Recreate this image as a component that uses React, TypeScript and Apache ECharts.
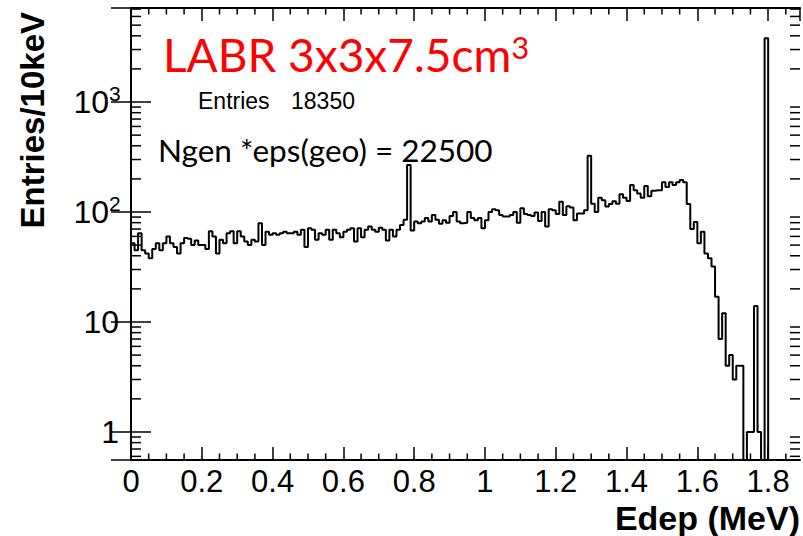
import React, { useEffect, useRef } from "react";
import * as echarts from "echarts";

// 10 keV bins, Edep from 0 to 1.89 MeV
const BIN_WIDTH = 0.01;
const X_MAX = 1.89;
const Y_MIN = 0.556;
const Y_MAX = 7160;

const countsA = [52, 45, 64, 45, 42, 38, 46, 52, 45, 52, 60, 52, 48, 42, 52, 58, 57, 50, 55, 50,
  50, 46, 67, 60, 42, 56, 52, 64, 67, 52, 67, 60, 54, 50, 56, 54, 79, 50, 66, 62, 64];
const countsB = [62, 64, 66, 64, 64, 66, 62, 69, 48, 71, 69, 56, 64, 62, 69, 56, 69, 64, 59, 66,
  69, 71, 54, 71, 59, 69, 74, 69, 66, 72, 69, 55, 69, 60, 69, 76, 85, 267, 68, 82, 79, 82, 88, 82, 94, 85, 78];
const countsC = [84, 80, 92, 100, 82, 79, 80, 100, 88, 84, 88, 71, 84, 100, 106, 104, 94, 91, 91, 94,
  100, 80, 108, 96, 94, 92, 99, 83, 100, 74, 106, 104, 96, 124, 94, 113, 110, 84, 97, 97, 104];
const countsD = [325, 119, 100, 135, 128, 112, 118, 125, 119, 145, 135, 126, 176, 158, 147, 135, 172, 139, 156,
  158, 158, 186, 169, 186, 176, 186, 195, 186];
const countsE = [118, 70, 81, 52, 66, 42, 38, 32, 17, 7, 12, 4, 5, 3, 4, 4, 0, 1, 1, 14, 1, 0, 3800,
  0, 0, 0, 0, 0, 0, 0, 0, 0];
const counts = [...countsA, ...countsB, ...countsC, ...countsD, ...countsE];

const yMajorLabels = [1, 10, 100, 1000];
const yMinorTicks = [0.6, 0.7, 0.8, 0.9, 2, 3, 4, 5, 6, 7, 8, 9, 20, 30, 40, 50, 60, 70, 80, 90,
  200, 300, 400, 500, 600, 700, 800, 900, 2000, 3000, 4000, 5000, 6000, 7000];
const xMinorTicks = [0.05, 0.1, 0.15, 0.25, 0.3, 0.35, 0.45, 0.5, 0.55, 0.65, 0.7, 0.75, 0.85, 0.9, 0.95,
  1.05, 1.1, 1.15, 1.25, 1.3, 1.35, 1.45, 1.5, 1.55, 1.65, 1.7, 1.75, 1.85];

const ROOT_FONT = "'Liberation Sans', Arial, Helvetica, sans-serif";
const NOTE_FONT = "Lato, 'Open Sans', sans-serif";

export default function App() {
  const ref = useRef<HTMLDivElement>(null);
  useEffect(() => {
    if (!ref.current) return;
    const chart = echarts.init(ref.current, null, { renderer: "svg" });
    const lineData: number[][] = counts.map((v, i) => [+(i * BIN_WIDTH).toFixed(2), v > 0 ? v : 1e-3]);
    const last = counts[counts.length - 1];
    lineData.push([X_MAX, last > 0 ? last : 1e-3]);

    const tickData: number[][] = [
      ...xMinorTicks.map((v) => [0, v, 6.5]),
      ...yMinorTicks.map((v) => [1, v, 10]),
    ];

    const xAxisBase = {
      type: "value",
      min: 0,
      max: X_MAX,
      interval: 0.2,
      axisLine: { show: true, onZero: false, lineStyle: { color: "#000", width: 2 } },
      axisTick: { show: true, inside: true, length: 13, lineStyle: { color: "#000", width: 1.5 } },
      splitLine: { show: false },
    };
    const yAxisBase = {
      type: "log",
      logBase: 10,
      min: Y_MIN,
      max: Y_MAX,
      axisLine: { show: true, lineStyle: { color: "#000", width: 2 } },
      axisTick: { show: true, inside: true, length: 20, lineStyle: { color: "#000", width: 1.5 } },
      axisLabel: { show: false },
      splitLine: { show: false },
    };

    chart.setOption({
      animation: false,
      backgroundColor: "#fff",
      grid: { left: 131, right: 3, top: 8, bottom: 76 },
      xAxis: [
        {
          ...xAxisBase,
          position: "bottom",
          axisLabel: {
            show: true,
            margin: 6,
            fontSize: 31,
            lineHeight: 30,
            fontFamily: ROOT_FONT,
            color: "#000",
            showMaxLabel: false,
            formatter: (v: number) => String(+v.toFixed(1)),
          },
        },
        { ...xAxisBase, position: "top", axisLabel: { show: false } },
      ],
      yAxis: [
        { ...yAxisBase, position: "left" },
        { ...yAxisBase, position: "right" },
      ],
      series: [
        {
          type: "line",
          step: "end",
          data: lineData,
          showSymbol: false,
          symbol: "none",
          clip: true,
          lineStyle: { color: "#000", width: 2 },
          xAxisIndex: 0,
          yAxisIndex: 0,
          z: 3,
        },
        {
          type: "custom",
          xAxisIndex: 0,
          yAxisIndex: 0,
          data: tickData,
          silent: true,
          z: 4,
          renderItem: (params: any, api: any) => {
            const kind = api.value(0);
            const v = api.value(1);
            const len = api.value(2);
            const cs = params.coordSys;
            const style = { stroke: "#000", lineWidth: 1.5 };
            if (kind === 0) {
              const px = api.coord([v, 1])[0];
              return {
                type: "group",
                children: [
                  { type: "line", shape: { x1: px, y1: cs.y + cs.height, x2: px, y2: cs.y + cs.height - len }, style },
                  { type: "line", shape: { x1: px, y1: cs.y, x2: px, y2: cs.y + len }, style },
                ],
              };
            }
            const py = api.coord([0.5, v])[1];
            return {
              type: "group",
              children: [
                { type: "line", shape: { x1: cs.x, y1: py, x2: cs.x + len, y2: py }, style },
                { type: "line", shape: { x1: cs.x + cs.width, y1: py, x2: cs.x + cs.width - len, y2: py }, style },
              ],
            };
          },
        },
        {
          type: "custom",
          xAxisIndex: 0,
          yAxisIndex: 0,
          data: yMajorLabels.map((v) => [0.5, v]),
          silent: true,
          z: 5,
          renderItem: (params: any, api: any) => {
            const v = api.value(1);
            const cs = params.coordSys;
            const py = api.coord([0.5, v])[1];
            const e = Math.round(Math.log10(v));
            const baseStyle = { font: `32px ${ROOT_FONT}`, fill: "#000", verticalAlign: "middle" };
            if (e >= 2) {
              return {
                type: "group",
                children: [
                  { type: "text", x: cs.x - 22, y: py, style: { ...baseStyle, text: "10", align: "right" } },
                  {
                    type: "text",
                    x: cs.x - 22,
                    y: py - 9,
                    style: { font: `21px ${ROOT_FONT}`, fill: "#000", verticalAlign: "middle", text: String(e), align: "left" },
                  },
                ],
              };
            }
            return { type: "text", x: cs.x - 12, y: py, style: { ...baseStyle, text: String(Math.round(v)), align: "right" } };
          },
        },
      ],
      graphic: [
        {
          type: "text",
          x: 163,
          y: 54,
          style: {
            text: "{m|LABR 3x3x7.5cm}{s|3}",
            verticalAlign: "middle",
            rich: {
              m: { fontSize: 46, fontFamily: NOTE_FONT, fill: "#ff0000", color: "#ff0000" },
              s: { fontSize: 31, fontFamily: NOTE_FONT, fill: "#ff0000", color: "#ff0000", padding: [0, 0, 14, 0] },
            },
          },
        },
        {
          type: "text",
          x: 198,
          y: 101,
          style: { text: "Entries", font: `23px ${ROOT_FONT}`, fill: "#000", verticalAlign: "middle" },
        },
        {
          type: "text",
          x: 355,
          y: 101,
          style: { text: "18350", font: `23px ${ROOT_FONT}`, fill: "#000", align: "right", verticalAlign: "middle" },
        },
        {
          type: "text",
          x: 158,
          y: 150,
          style: { text: "Ngen *eps(geo) = 22500", font: `31.5px ${NOTE_FONT}`, fill: "#000", verticalAlign: "middle" },
        },
        {
          type: "text",
          x: 32,
          y: 12,
          rotation: Math.PI / 2,
          style: { text: "Entries/10keV", font: `bold 33px ${ROOT_FONT}`, fill: "#000", align: "right", verticalAlign: "middle" },
        },
        {
          type: "text",
          x: 800,
          y: 518,
          style: { text: "Edep (MeV)", font: `bold 34px ${ROOT_FONT}`, fill: "#000", align: "right", verticalAlign: "middle" },
        },
      ],
    });
    return () => chart.dispose();
  }, []);
  return (
    <div
      ref={ref}
      style={{ position: "fixed", left: 0, top: 0, width: 803, height: 536, background: "#fff" }}
    />
  );
}
